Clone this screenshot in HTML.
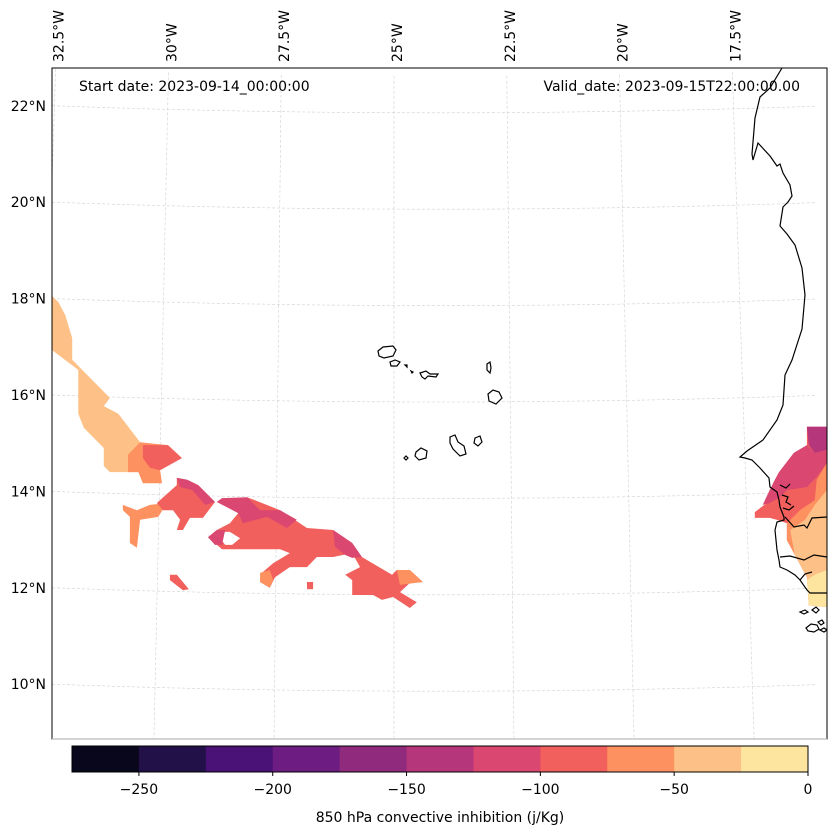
<!DOCTYPE html>
<html><head><meta charset="utf-8"><style>
html,body{margin:0;padding:0;background:#fff;}
svg{display:block;font-family:"DejaVu Sans","Liberation Sans",sans-serif;}
</style></head><body>
<svg id="map" width="837" height="836" viewBox="0 0 837 836">
<defs><clipPath id="plotclip"><rect x="52" y="68" width="775" height="671"/></clipPath></defs>
<g id="grid"></g>
<g id="fills" clip-path="url(#plotclip)"></g>
<g id="coast" clip-path="url(#plotclip)" fill="none" stroke="#000" stroke-width="1.2">
<path d="M782,68 L770,88 L760,97 L755,118 L752,154 L753,160 L758,143 L770,156 L777,166 L780,164 L783,173 L790,185 L792,196 L788,202 L783,207 L780,226 L787,234 L795,245 L802,268 L805,295 L802,329 L792,360 L785,375 L783,405 L777,420 L763,440 L747,451 L740,457 L745,458 L752,460 L760,468 L769,478 L770,487 L777,492 L779,500 L780,507 L784,517 L784,520 L777,522 L775,530 L777,550 L779,560 L780,567 L787,570 L795,575 L800,580 L807,590 L810,593 L820,593 L827,593"/>
<path d="M785,517 L794,527 L804,525 L807,528 L812,518 L827,517"/>
<path d="M780,557 L790,556 L804,560 L814,555 L827,557"/>
<path d="M800,580 L805,574 L812,572"/>
<path d="M780,485 L786,488 L790,484 M782,495 L788,497 L786,502 L791,505 M783,508 L789,510 L794,506"/>
<path d="M800,612 l5,-2 l3,2 l-4,2 z M812,610 l4,-3 l3,3 l-3,3 z M806,628 l5,-4 l6,1 l2,4 l-5,3 l-6,-1 z M818,622 l4,-2 l2,3 l-3,2 z M820,630 l4,-2 l3,2 l-3,2 z"/>
<g>
<path d="M378,351 L383,347 L393,346 L396,350 L393,356 L384,358 L379,356 Z"/>
<path d="M390,362 L395,360 L400,362 L397,366 L391,366 Z"/>
<path d="M405,365 l2,0 l0,2 z M411,371 l2,1 l-1,1 z"/>
<path d="M420,373 L426,371 L430,374 L438,374 L436,377 L428,376 L425,379 L422,377 Z"/>
<path d="M487,364 L490,362 L491,368 L490,373 L487,370 Z"/>
<path d="M488,394 L493,390 L499,392 L502,398 L496,404 L489,401 Z"/>
<path d="M475,438 L480,436 L482,442 L478,446 L474,443 Z"/>
<path d="M450,437 L455,435 L458,442 L464,446 L466,454 L460,456 L453,449 L450,443 Z"/>
<path d="M416,452 L421,448 L427,451 L426,458 L419,460 L415,456 Z"/>
<path d="M404,458 l2,-2 l2,2 l-2,2 z"/>
</g>
</g>
<rect x="52" y="68" width="775" height="671" fill="none" stroke="#000" stroke-width="1"/>
<line x1="52" y1="739" x2="827" y2="739" stroke="#bbb" stroke-width="1.2"/>
<text x="79" y="91" font-size="14" fill="#000">Start date: 2023-09-14_00:00:00</text>
<text x="800" y="91" font-size="14" fill="#000" text-anchor="end">Valid_date: 2023-09-15T22:00:00.00</text>
<g id="latlabels"></g>
<g id="lonlabels"></g>
<g id="cbar"></g>
<text x="440" y="822" font-size="14" text-anchor="middle">850 hPa convective inhibition (j/Kg)</text>
</svg>
<script>
const NS="http://www.w3.org/2000/svg";
const levelColors=["#09071c","#221149","#4a1277","#6d1d81","#902a7c","#b5367a","#da4770","#f1605d","#fe9160","#fdc086","#fde5a0"];
const levelBounds=[-275,-250,-225,-200,-175,-150,-125,-100,-75,-50,-25,0];
const cbarTicks=[-250,-200,-150,-100,-50,0];
const cbarTickLabels=["\u2212250","\u2212200","\u2212150","\u2212100","\u221250","0"];
const latTicks=[10,12,14,16,18,20,22];
const lonTicks=[-32.5,-30,-27.5,-25,-22.5,-20,-17.5];
const lonTickLabels=["32.5°W","30°W","27.5°W","25°W","22.5°W","20°W","17.5°W"];
const regionCoords=[
[[-32.35,18.05],[-32.22,17.93],[-32.07,17.66],[-31.92,17.18],[-31.92,16.73],[-31.11,15.94],[-31.24,15.77],[-30.93,15.61],[-30.46,15.02],[-30.53,14.40],[-31.11,14.40],[-31.24,14.53],[-31.24,14.90],[-31.67,15.32],[-31.79,15.61],[-31.79,16.52],[-32.35,16.93]],
[[-30.46,15.02],[-29.86,14.96],[-30.03,14.44],[-29.99,14.17],[-30.40,14.17],[-30.50,14.40],[-30.72,14.40],[-30.72,14.76]],
[[-30.40,14.96],[-29.86,14.96],[-29.56,14.69],[-30.03,14.44],[-30.25,14.49],[-30.40,14.69]],
[[-30.83,13.72],[-30.53,13.61],[-30.25,13.72],[-29.88,13.76],[-30.07,13.47],[-30.46,13.41],[-30.53,12.83],[-30.68,12.93],[-30.68,13.47],[-30.83,13.61]],
[[-30.10,13.76],[-29.67,14.13],[-29.67,14.28],[-29.45,14.24],[-29.21,14.13],[-28.85,13.78],[-29.11,13.45],[-29.39,13.45],[-29.54,13.20],[-29.67,13.20],[-29.60,13.41],[-29.75,13.61],[-29.97,13.61]],
[[-29.67,14.28],[-29.45,14.24],[-29.21,14.13],[-28.85,13.78],[-29.06,13.72],[-29.34,14.03],[-29.60,14.09]],
[[-29.00,13.05],[-28.81,13.20],[-28.53,13.34],[-28.35,13.55],[-28.70,13.78],[-28.16,13.88],[-27.45,13.61],[-26.87,13.24],[-26.31,13.20],[-25.90,12.93],[-25.69,12.64],[-25.04,12.27],[-24.94,12.37],[-24.66,12.37],[-24.38,12.12],[-24.66,12.10],[-24.87,11.91],[-24.51,11.70],[-24.66,11.58],[-25.02,11.81],[-25.26,11.75],[-25.45,11.85],[-25.90,11.85],[-25.90,12.16],[-26.05,12.27],[-25.73,12.43],[-25.90,12.72],[-26.31,12.64],[-26.66,12.64],[-26.87,12.43],[-27.24,12.43],[-27.56,12.22],[-27.67,12.00],[-27.88,12.12],[-27.84,12.31],[-27.60,12.51],[-27.24,12.72],[-27.45,12.80],[-28.70,12.80]],
[[-28.68,13.16],[-28.53,13.16],[-28.31,13.03],[-28.48,12.89],[-28.63,12.89],[-28.74,13.03]],
[[-28.81,13.78],[-28.70,13.86],[-28.16,13.88],[-27.88,13.61],[-27.45,13.61],[-27.09,13.41],[-27.30,13.24],[-27.73,13.47],[-28.25,13.34],[-28.35,13.55]],
[[-29.00,13.05],[-28.81,13.20],[-28.63,13.20],[-28.70,12.89],[-28.85,12.89]],
[[-26.31,13.20],[-25.90,12.93],[-25.69,12.64],[-25.90,12.62],[-26.05,12.68],[-26.27,12.85]],
[[-26.87,12.12],[-26.74,12.12],[-26.74,11.97],[-26.87,11.97]],
[[-29.82,12.27],[-29.67,12.27],[-29.41,11.97],[-29.54,11.95],[-29.82,12.16]],
[[-24.94,12.37],[-24.66,12.37],[-24.38,12.12],[-24.87,12.06]],
[[-27.88,12.31],[-27.67,12.37],[-27.60,12.16],[-27.67,12.00],[-27.88,12.12]],
[[-16.12,15.34],[-15.69,15.34],[-15.69,11.60],[-16.08,11.64],[-16.12,12.22],[-16.55,12.99],[-16.55,13.34],[-16.77,13.41],[-16.92,13.45],[-17.24,13.45],[-17.24,13.57],[-16.98,13.76],[-16.85,14.17],[-16.72,14.40],[-16.40,14.44],[-16.12,14.71]],
[[-16.12,15.34],[-15.69,15.34],[-15.69,14.86],[-15.95,14.80],[-16.08,14.96]],
[[-16.40,14.80],[-16.12,14.96],[-15.95,14.80],[-15.69,14.86],[-15.69,14.59],[-15.91,14.30],[-16.12,14.09],[-16.55,14.03],[-16.70,13.88],[-16.92,13.76],[-17.07,13.72],[-16.92,14.03],[-16.72,14.40]],
[[-15.69,14.59],[-15.69,11.60],[-16.08,11.64],[-16.12,12.22],[-16.55,12.99],[-16.55,13.34],[-16.27,13.61],[-15.95,13.82],[-15.91,14.24]],
[[-15.69,14.03],[-15.69,11.60],[-16.08,11.64],[-16.12,12.22],[-16.38,12.68],[-16.48,13.20],[-16.16,13.41],[-15.95,13.72]],
[[-15.69,12.37],[-15.69,11.60],[-16.08,11.64],[-16.12,12.16],[-15.95,12.27]]
];
const regionLevelsFinal=[9,8,7,8,7,6,7,-1,6,6,6,7,7,8,8,7,5,6,8,9,10];

function fillX(lon){return 394+(lon+25)*46.5;}
function fillY(lat){return 395-(lat-16)*48.2;}
function gridPt(lon,lat){
  const s=48-(lat-9)*0.21;
  const x=394+(lon+25)*s;
  const y=395-(lat-16)*48.2+7*(1-Math.pow((x-440)/388,2));
  return [x,y];
}
const fills=document.getElementById('fills');
regionCoords.forEach((pts,i)=>{
  const lv=regionLevelsFinal[i];
  const p=document.createElementNS(NS,'polygon');
  p.setAttribute('points',pts.map(q=>fillX(q[0]).toFixed(1)+','+fillY(q[1]).toFixed(1)).join(' '));
  p.setAttribute('fill',lv<0?'#ffffff':levelColors[lv]);
  
  
  fills.appendChild(p);
});
fills.insertBefore(fills.children[17],fills.children[16]);

const grid=document.getElementById('grid');
latTicks.forEach(lat=>{
  let d='';
  for(let x=52;x<=827;x+=15){
    const yy=395-(lat-16)*48.2+7*(1-Math.pow((x-440)/388,2));
    d+=(d?'L':'M')+x+','+yy.toFixed(1);
  }
  const p=document.createElementNS(NS,'path');
  p.setAttribute('d',d);p.setAttribute('fill','none');p.setAttribute('stroke','#d0d0d0');
  p.setAttribute('stroke-width','0.6');p.setAttribute('stroke-dasharray','3,2');
  
  
  grid.appendChild(p);
  const t=document.createElementNS(NS,'text');
  t.setAttribute('x',46);t.setAttribute('y',(395-(lat-16)*48.2+5).toFixed(1));
  t.setAttribute('text-anchor','end');t.setAttribute('font-size','14');
  t.textContent=lat+'°N';
  
  
  document.getElementById('latlabels').appendChild(t);
});
lonTicks.forEach((lon,i)=>{
  let d='';
  for(let lat=8.8;lat<=22.9;lat+=0.5){
    const pt=gridPt(lon,lat);
    d+=(d?'L':'M')+pt[0].toFixed(1)+','+pt[1].toFixed(1);
  }
  const p=document.createElementNS(NS,'path');
  p.setAttribute('d',d);p.setAttribute('fill','none');p.setAttribute('stroke','#d0d0d0');
  p.setAttribute('stroke-width','0.6');p.setAttribute('stroke-dasharray','3,2');
  p.setAttribute('clip-path','url(#plotclip)');
  
  
  grid.appendChild(p);
  const top=gridPt(lon,22.78);
  const t=document.createElementNS(NS,'text');
  t.setAttribute('transform','translate('+(top[0]+8).toFixed(1)+',62) rotate(-90)');
  t.setAttribute('font-size','14');
  t.textContent=lonTickLabels[i];
  
  
  document.getElementById('lonlabels').appendChild(t);
});
const cb=document.getElementById('cbar');
const cx0=72,cx1=808,cy=746,ch=26;
function cbX(v){return cx0+(v-levelBounds[0])/(levelBounds[levelBounds.length-1]-levelBounds[0])*(cx1-cx0);}
levelColors.forEach((c,i)=>{
  const r=document.createElementNS(NS,'rect');
  const x0=cbX(levelBounds[i]),x1=cbX(levelBounds[i+1]);
  r.setAttribute('x',x0);r.setAttribute('y',cy);r.setAttribute('width',x1-x0+0.5);r.setAttribute('height',ch);
  r.setAttribute('fill',c);
  
  
  cb.appendChild(r);
});
const fr=document.createElementNS(NS,'rect');
fr.setAttribute('x',cx0);fr.setAttribute('y',cy);fr.setAttribute('width',cx1-cx0);fr.setAttribute('height',ch);
fr.setAttribute('fill','none');fr.setAttribute('stroke','#000');fr.setAttribute('stroke-width','1');


cb.appendChild(fr);
cbarTicks.forEach((v,i)=>{
  const x=cbX(v);
  const l=document.createElementNS(NS,'line');
  l.setAttribute('x1',x);l.setAttribute('x2',x);l.setAttribute('y1',cy+ch);l.setAttribute('y2',cy+ch+4);
  l.setAttribute('stroke','#000');
  
  
  cb.appendChild(l);
  const t=document.createElementNS(NS,'text');
  t.setAttribute('x',x);t.setAttribute('y',cy+ch+22);t.setAttribute('text-anchor','middle');t.setAttribute('font-size','14');
  t.textContent=cbarTickLabels[i];
  
  
  cb.appendChild(t);
});
</script>
</body></html>
